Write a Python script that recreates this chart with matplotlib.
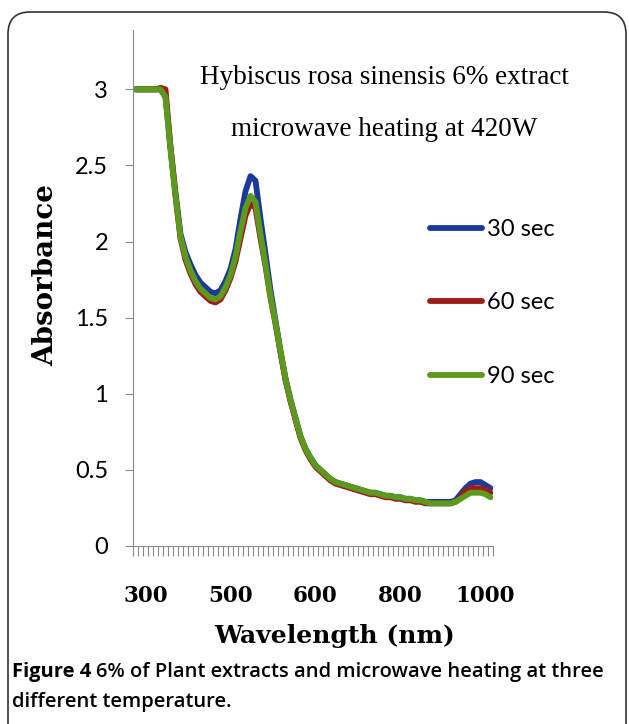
import numpy as np
import matplotlib.pyplot as plt
from matplotlib.patches import FancyBboxPatch
from matplotlib.transforms import IdentityTransform

# absorbance per sample (Excel category axis, 72 samples)
abs_30 = [3.00, 3.00, 3.00, 3.00, 3.00, 3.00, 2.95, 2.62, 2.32, 2.05,
          1.93, 1.85, 1.78, 1.73, 1.70, 1.67, 1.66, 1.68, 1.74, 1.82,
          1.95, 2.15, 2.33, 2.43, 2.40, 2.15, 1.92, 1.68, 1.48, 1.28,
          1.10, 0.96, 0.84, 0.72, 0.64, 0.58, 0.53, 0.50, 0.47, 0.44,
          0.42, 0.41, 0.40, 0.39, 0.38, 0.37, 0.36, 0.35, 0.35, 0.34,
          0.33, 0.33, 0.32, 0.32, 0.31, 0.31, 0.30, 0.30, 0.29, 0.29,
          0.29, 0.29, 0.29, 0.29, 0.30, 0.34, 0.38, 0.41, 0.42, 0.42,
          0.40, 0.38]
abs_60 = [3.00, 3.00, 3.00, 3.00, 3.00, 3.01, 3.00, 2.62, 2.30, 2.02,
          1.88, 1.79, 1.72, 1.67, 1.64, 1.61, 1.60, 1.62, 1.68, 1.76,
          1.87, 2.02, 2.17, 2.25, 2.22, 2.02, 1.84, 1.63, 1.46, 1.27,
          1.09, 0.95, 0.83, 0.71, 0.63, 0.57, 0.52, 0.49, 0.46, 0.43,
          0.41, 0.40, 0.39, 0.38, 0.37, 0.36, 0.35, 0.34, 0.34, 0.33,
          0.32, 0.32, 0.31, 0.31, 0.30, 0.30, 0.29, 0.29, 0.28, 0.28,
          0.28, 0.28, 0.28, 0.28, 0.29, 0.32, 0.36, 0.38, 0.38, 0.38,
          0.37, 0.35]
abs_90 = [3.00, 3.00, 3.00, 3.00, 3.00, 3.00, 2.95, 2.60, 2.30, 2.03,
          1.90, 1.81, 1.74, 1.69, 1.66, 1.63, 1.62, 1.64, 1.70, 1.78,
          1.90, 2.07, 2.22, 2.30, 2.26, 2.05, 1.85, 1.64, 1.47, 1.28,
          1.10, 0.96, 0.84, 0.72, 0.64, 0.58, 0.53, 0.50, 0.47, 0.44,
          0.42, 0.41, 0.40, 0.39, 0.38, 0.37, 0.36, 0.35, 0.35, 0.34,
          0.33, 0.33, 0.32, 0.32, 0.31, 0.31, 0.30, 0.30, 0.29, 0.28,
          0.28, 0.28, 0.28, 0.28, 0.29, 0.31, 0.33, 0.35, 0.35, 0.35,
          0.34, 0.32]
series_labels = ['30 sec', '60 sec', '90 sec']
series_colors = ['#1b3a9c', '#a01c1c', '#5c9a1e']

xtick_idx = [2, 19, 36, 53, 70]
xtick_labels = ['300', '500', '600', '800', '1000']
yticks = [0, 0.5, 1, 1.5, 2, 2.5, 3]
ytick_labels = ['0', '0.5', '1', '1.5', '2', '2.5', '3']

W, H = 629, 724
fig = plt.figure(figsize=(W / 100, H / 100), dpi=100)

# rounded frame around the figure (pixel coords, bottom runs off the page)
frame = FancyBboxPatch((8, -30), 618, 742, boxstyle='round,pad=0,rounding_size=22',
                       transform=IdentityTransform(), fc='none', ec='#333333', lw=1.2)
fig.patches.append(frame)

ax = fig.add_axes([133 / W, (H - 546) / H, 360 / W, (546 - 30) / H])
x = np.arange(len(abs_30))
for ys, lab, c in zip([abs_30, abs_60, abs_90], series_labels, series_colors):
    ax.plot(x, ys, color=c, lw=4.2, label=lab, solid_capstyle='round', solid_joinstyle='round')

ax.set_xlim(-0.5, len(x) - 0.5)
ax.set_ylim(0, 3.39)
for s in ['top', 'right']:
    ax.spines[s].set_visible(False)
ax.spines['left'].set_color('#8a8a8a')
ax.spines['bottom'].set_color('#8a8a8a')

ax.set_yticks(yticks)
ax.set_yticklabels(ytick_labels, family='Lato', fontsize=17)
ax.tick_params(axis='y', length=6, color='#8a8a8a', pad=12)

ax.set_xticks(xtick_idx)
ax.set_xticklabels(xtick_labels, family='DejaVu Serif', fontweight='bold', fontsize=15.5)
ax.set_xticks(np.arange(-0.5, len(x), 1), minor=True)
ax.tick_params(axis='x', which='major', length=0, pad=28)
ax.tick_params(axis='x', which='minor', length=7, color='#8a8a8a', width=0.8)

fig.text(46 / W, 1 - 275 / H, 'Absorbance', rotation=90, ha='center', va='center',
         family='DejaVu Serif', fontweight='bold', fontsize=20)
fig.text(335 / W, 1 - 636 / H, 'Wavelength (nm)', ha='center', va='center',
         family='DejaVu Serif', fontweight='bold', fontsize=18)

fig.text(384 / W, 1 - 78 / H, 'Hybiscus rosa sinensis 6% extract', ha='center', va='center',
         family='Liberation Serif', fontsize=19.5)
fig.text(384 / W, 1 - 130 / H, 'microwave heating at 420W', ha='center', va='center',
         family='Liberation Serif', fontsize=19.5)

ax.legend(loc='upper left', bbox_to_anchor=(430 / W, 1 - 219 / H), bbox_transform=fig.transFigure,
          frameon=False, handlelength=2.2, handletextpad=0.2, labelspacing=2.22,
          borderaxespad=0, borderpad=0, prop={'family': 'Lato', 'size': 17})

# caption: bold "Figure 4" followed by title text
cap1 = fig.text(12 / W, 1 - 672 / H, 'Figure 4', ha='left', va='center',
                family='Open Sans', fontweight='bold', fontsize=14.5)
fig.canvas.draw()
bb = cap1.get_window_extent(fig.canvas.get_renderer())
fig.text((bb.x1 + 5) / W, 1 - 672 / H, '6% of Plant extracts and microwave heating at three',
         ha='left', va='center', family='Open Sans', fontweight='semibold', fontsize=14.5)
fig.text(12 / W, 1 - 702 / H, 'different temperature.', ha='left', va='center',
         family='Open Sans', fontweight='semibold', fontsize=14.5)

fig.savefig('out.png', dpi=100)
